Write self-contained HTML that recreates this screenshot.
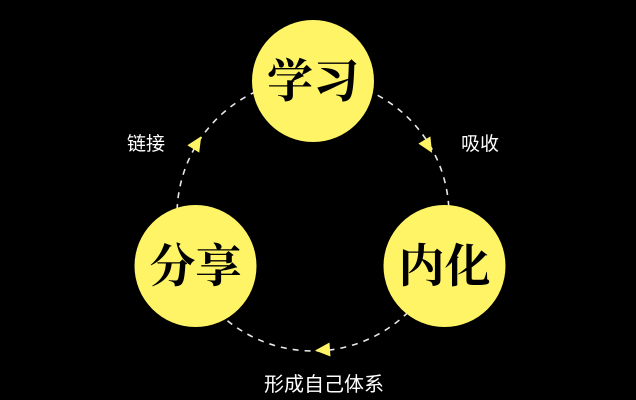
<!DOCTYPE html>
<html><head><meta charset="utf-8"><style>
html,body{margin:0;padding:0;background:#000;}
svg{display:block}
.big{font-family:"Liberation Serif","Noto Serif CJK SC",serif;font-weight:700;font-size:46px;fill:#000}
.lab{font-family:"Liberation Sans","Noto Sans CJK SC",sans-serif;fill:#fff}
</style></head><body>
<svg width="636" height="400" viewBox="0 0 636 400" xmlns="http://www.w3.org/2000/svg">
<rect width="636" height="400" fill="#000"/>
<circle cx="313" cy="215" r="136" fill="none" stroke="#e8e8e8" stroke-width="1.6" stroke-dasharray="6 6"/>
<circle cx="313" cy="81" r="61" fill="#fef466"/>
<circle cx="195.5" cy="266" r="61" fill="#fef466"/>
<circle cx="444.5" cy="266" r="61" fill="#fef466"/>
<g fill="#fef466">
<polygon points="8,0 -7,-7 -7,7" transform="translate(428,146) rotate(59)"/>
<polygon points="8,0 -7,-7 -7,7" transform="translate(323,350) rotate(176)"/>
<polygon points="8,0 -7,-7 -7,7" transform="translate(197,143) rotate(-58)"/>
</g>
<text class="big" x="313" y="97" text-anchor="middle">学习</text>
<text class="big" x="195.5" y="282" text-anchor="middle">分享</text>
<text class="big" x="444.5" y="282" text-anchor="middle">内化</text>
<text class="lab" x="146" y="150" font-size="19" text-anchor="middle">链接</text>
<text class="lab" x="480" y="150" font-size="19" text-anchor="middle">吸收</text>
<text class="lab" x="324" y="391" font-size="20" text-anchor="middle">形成自己体系</text>
</svg>
</body></html>
